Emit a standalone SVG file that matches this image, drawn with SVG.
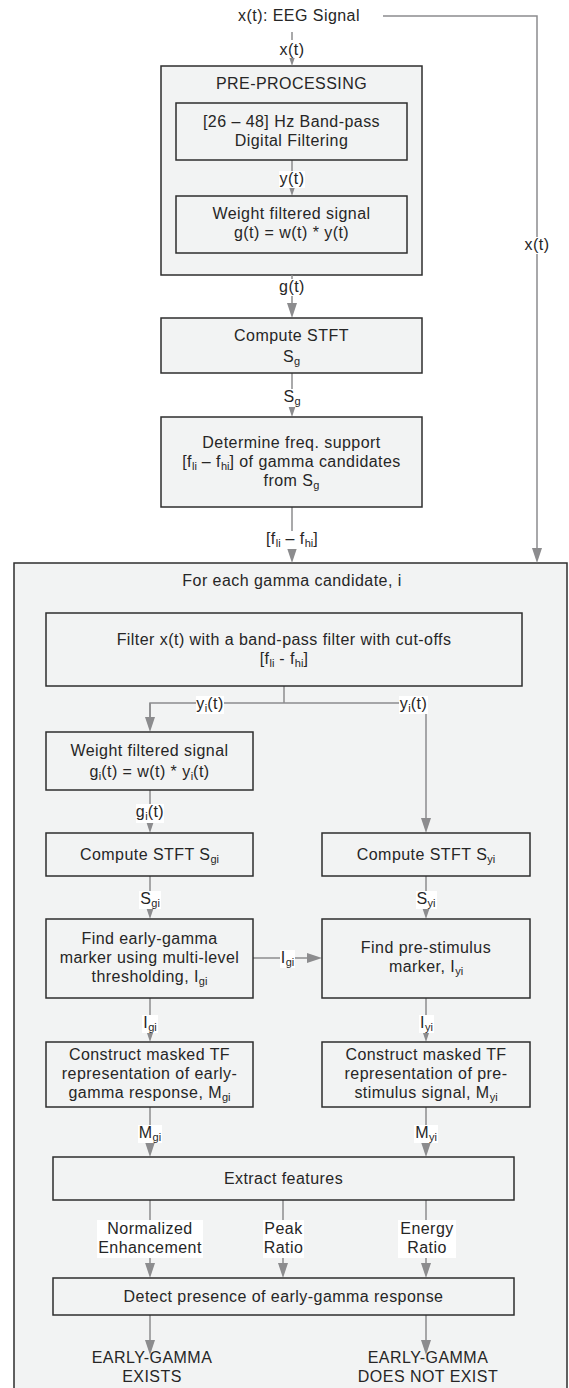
<svg xmlns="http://www.w3.org/2000/svg" width="569" height="1388" viewBox="0 0 569 1388">
<style>
text{font-family:"Liberation Sans",Arial,sans-serif;font-size:16px;fill:#262626;letter-spacing:0.45px;text-anchor:middle}
.s{font-size:11px;letter-spacing:0}
.box{fill:#f2f3f3;stroke:#2e2e2e;stroke-width:1.5}
.c{fill:none;stroke:#8c8c8e;stroke-width:1.5}
.lb{fill:#ffffff}
</style>
<defs>
<marker id="ah" markerUnits="userSpaceOnUse" markerWidth="15" markerHeight="10" refX="9" refY="5" orient="auto" overflow="visible">
<path d="M0,0 L15,5 L0,10 z" fill="#8c8c8e"/>
</marker>
</defs>
<rect x="0" y="0" width="569" height="1388" fill="#ffffff"/>

<g id="outer-container">
<rect class="box" x="14" y="563" width="553" height="840"/>
<text x="292" y="586">For each gamma candidate, i</text>
</g>

<g id="preprocessing">
<rect class="box" x="161" y="66" width="261" height="209"/>
<text x="291.5" y="89">PRE-PROCESSING</text>
</g>

<g id="input-label">
<text x="299" y="21">x(t): EEG Signal</text>
</g>

<g id="connectors">
<path class="c" d="M383,16 H537 V557" marker-end="url(#ah)"/>
<path class="c" d="M292,32 V60" marker-end="url(#ah)"/>
<path class="c" d="M292,160 V190" marker-end="url(#ah)"/>
<path class="c" d="M292,275 V312" marker-end="url(#ah)"/>
<path class="c" d="M292,373 V411" marker-end="url(#ah)"/>
<path class="c" d="M292,507 V557" marker-end="url(#ah)"/>
<path class="c" d="M284,686 V703"/>
<path class="c" d="M150,726 V703 H426 V827" marker-end="url(#ah)"/>
<path class="c" d="M150,703 V726" marker-end="url(#ah)"/>
<path class="c" d="M150,790 V827" marker-end="url(#ah)"/>
<path class="c" d="M150,876 V913" marker-end="url(#ah)"/>
<path class="c" d="M426,876 V913" marker-end="url(#ah)"/>
<path class="c" d="M253,958 H316" marker-end="url(#ah)"/>
<path class="c" d="M150,998 V1036" marker-end="url(#ah)"/>
<path class="c" d="M426,998 V1036" marker-end="url(#ah)"/>
<path class="c" d="M150,1107 V1151" marker-end="url(#ah)"/>
<path class="c" d="M426,1107 V1151" marker-end="url(#ah)"/>
<path class="c" d="M150,1200 V1272" marker-end="url(#ah)"/>
<path class="c" d="M283,1200 V1272" marker-end="url(#ah)"/>
<path class="c" d="M426,1200 V1272" marker-end="url(#ah)"/>
<path class="c" d="M150,1315 V1349" marker-end="url(#ah)"/>
<path class="c" d="M426,1315 V1349" marker-end="url(#ah)"/>

<g id="labels">
<rect class="lb" x="524" y="237" width="26" height="17"/>
<text x="537" y="250">x(t)</text>
<rect class="lb" x="279" y="40" width="26" height="18"/>
<text x="292" y="55">x(t)</text>
<rect class="lb" x="279" y="171" width="26" height="17"/>
<text x="292" y="184">y(t)</text>
<rect class="lb" x="279" y="279" width="26" height="17"/>
<text x="292" y="292">g(t)</text>
<rect class="lb" x="282" y="389" width="20" height="18"/>
<text x="292" y="402">S<tspan class="s" dy="3">g</tspan></text>
<rect class="lb" x="265" y="531" width="54" height="18"/>
<text x="292" y="544">[f<tspan class="s" dy="3">li</tspan><tspan dy="-3"> – f</tspan><tspan class="s" dy="3">hi</tspan><tspan dy="-3">]</tspan></text>
<rect class="lb" x="196" y="696" width="28" height="18"/>
<text x="210" y="709">y<tspan class="s" dy="3">i</tspan><tspan dy="-3">(t)</tspan></text>
<rect class="lb" x="399" y="696" width="29" height="18"/>
<text x="413.5" y="709">y<tspan class="s" dy="3">i</tspan><tspan dy="-3">(t)</tspan></text>
<rect class="lb" x="136" y="804" width="28" height="19"/>
<text x="150" y="817">g<tspan class="s" dy="3">i</tspan><tspan dy="-3">(t)</tspan></text>
<rect class="lb" x="139" y="891" width="22" height="18"/>
<text x="150" y="904">S<tspan class="s" dy="3">gi</tspan></text>
<rect class="lb" x="416" y="891" width="21" height="18"/>
<text x="426" y="904">S<tspan class="s" dy="3">yi</tspan></text>
<rect class="lb" x="280" y="950" width="15" height="18"/>
<text x="287.5" y="963">I<tspan class="s" dy="3">gi</tspan></text>
<rect class="lb" x="142" y="1015" width="16" height="18"/>
<text x="150" y="1028">I<tspan class="s" dy="3">gi</tspan></text>
<rect class="lb" x="419" y="1015" width="15" height="18"/>
<text x="426.5" y="1028">I<tspan class="s" dy="3">yi</tspan></text>
<rect class="lb" x="138" y="1125" width="24" height="18"/>
<text x="150" y="1138">M<tspan class="s" dy="3">gi</tspan></text>
<rect class="lb" x="414" y="1125" width="24" height="18"/>
<text x="426" y="1138">M<tspan class="s" dy="3">yi</tspan></text>
<rect class="lb" x="97" y="1220" width="106" height="38"/>
<text x="150" y="1234">Normalized</text>
<text x="150" y="1253">Enhancement</text>
<rect class="lb" x="263" y="1220" width="41" height="38"/>
<text x="283.5" y="1234">Peak</text>
<text x="283.5" y="1253">Ratio</text>
<rect class="lb" x="398" y="1220" width="58" height="38"/>
<text x="427" y="1234">Energy</text>
<text x="427" y="1253">Ratio</text>
</g>
</g>

<g id="bandpass">
<rect class="box" x="176" y="103" width="231" height="57"/>
<text x="291.5" y="127">[26 – 48] Hz Band-pass</text>
<text x="291.5" y="146">Digital Filtering</text>
</g>
<g id="weight">
<rect class="box" x="176" y="196" width="231" height="57"/>
<text x="291.5" y="219">Weight filtered signal</text>
<text x="291.5" y="238">g(t) = w(t) * y(t)</text>
</g>
<g id="stft">
<rect class="box" x="161" y="318" width="261" height="55"/>
<text x="291.5" y="341">Compute STFT</text>
<text x="291.5" y="362">S<tspan class="s" dy="3">g</tspan></text>
</g>
<g id="freq-support">
<rect class="box" x="161" y="417" width="261" height="90"/>
<text x="291.5" y="448">Determine freq. support</text>
<text x="291.5" y="467">[f<tspan class="s" dy="3">li</tspan><tspan dy="-3"> – f</tspan><tspan class="s" dy="3">hi</tspan><tspan dy="-3">] of gamma candidates</tspan></text>
<text x="291.5" y="486">from S<tspan class="s" dy="3">g</tspan></text>
</g>
<g id="filter-candidate">
<rect class="box" x="46" y="613" width="476" height="73"/>
<text x="284" y="645">Filter x(t) with a band-pass filter with cut-offs</text>
<text x="284" y="664">[f<tspan class="s" dy="3">li</tspan><tspan dy="-3"> - f</tspan><tspan class="s" dy="3">hi</tspan><tspan dy="-3">]</tspan></text>
</g>
<g id="weight-i">
<rect class="box" x="46" y="732" width="207" height="58"/>
<text x="149.5" y="756">Weight filtered signal</text>
<text x="149.5" y="777">g<tspan class="s" dy="3">i</tspan><tspan dy="-3">(t) = w(t) * y</tspan><tspan class="s" dy="3">i</tspan><tspan dy="-3">(t)</tspan></text>
</g>
<g id="stft-gi">
<rect class="box" x="46" y="833" width="207" height="43"/>
<text x="149.5" y="860">Compute STFT S<tspan class="s" dy="3">gi</tspan></text>
</g>
<g id="stft-yi">
<rect class="box" x="322" y="833" width="208" height="43"/>
<text x="426" y="860">Compute STFT S<tspan class="s" dy="3">yi</tspan></text>
</g>
<g id="marker-gi">
<rect class="box" x="46" y="919" width="207" height="79"/>
<text x="149.5" y="944">Find early-gamma</text>
<text x="149.5" y="963">marker using multi-level</text>
<text x="149.5" y="982">thresholding, I<tspan class="s" dy="3">gi</tspan></text>
</g>
<g id="marker-yi">
<rect class="box" x="322" y="919" width="208" height="79"/>
<text x="426" y="953">Find pre-stimulus</text>
<text x="426" y="972">marker, I<tspan class="s" dy="3">yi</tspan></text>
</g>
<g id="mask-gi">
<rect class="box" x="46" y="1042" width="207" height="65"/>
<text x="149.5" y="1060">Construct masked TF</text>
<text x="149.5" y="1079">representation of early-</text>
<text x="149.5" y="1098">gamma response, M<tspan class="s" dy="3">gi</tspan></text>
</g>
<g id="mask-yi">
<rect class="box" x="322" y="1042" width="208" height="65"/>
<text x="426" y="1060">Construct masked TF</text>
<text x="426" y="1079">representation of pre-</text>
<text x="426" y="1098">stimulus signal, M<tspan class="s" dy="3">yi</tspan></text>
</g>
<g id="extract">
<rect class="box" x="53" y="1157" width="461" height="43"/>
<text x="283.5" y="1184">Extract features</text>
</g>
<g id="detect">
<rect class="box" x="53" y="1278" width="461" height="37"/>
<text x="283.5" y="1302">Detect presence of early-gamma response</text>
</g>
<g id="out-exists">
<text x="152" y="1363">EARLY-GAMMA</text>
<text x="152" y="1382">EXISTS</text>
</g>
<g id="out-not-exists">
<text x="428" y="1363">EARLY-GAMMA</text>
<text x="428" y="1382">DOES NOT EXIST</text>
</g>
</svg>
